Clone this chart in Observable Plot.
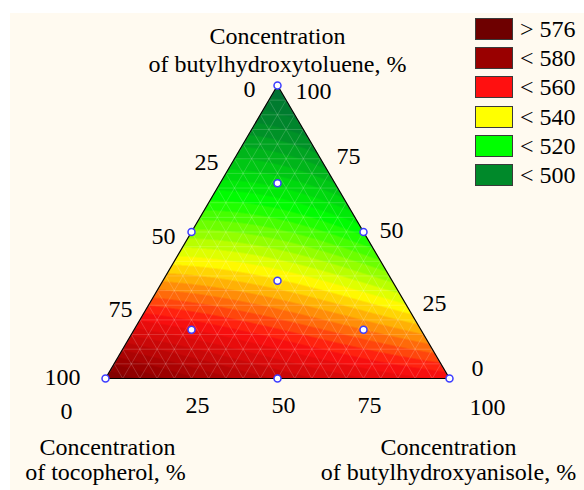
<!DOCTYPE html>
<html>
<head>
<meta charset="utf-8">
<script src="https://cdn.jsdelivr.net/npm/d3@7"></script>
<script src="https://cdn.jsdelivr.net/npm/@observablehq/plot@0.6"></script>
<style>
  html, body { margin: 0; padding: 0; background: #ffffff; }
  #wrap { position: absolute; left: 10px; top: 13px; width: 574px; height: 477px; background: #fffaf0;
          font-family: "Liberation Serif", "Times New Roman", "DejaVu Serif", serif; }
  #wrap svg { position: absolute; left: 0; top: 0; overflow: visible; }
  #wrap svg text { font-family: "Liberation Serif", "Times New Roman", "DejaVu Serif", serif; }
  .lg { position: absolute; left: 465px; height: 22px; display: flex; align-items: center; }
  .sw { width: 38px; height: 22px; box-sizing: border-box; border: 1px solid #3a3a3a; }
  .lt { margin-left: 7px; font-family: "Liberation Serif", "Times New Roman", "DejaVu Serif", serif;
        font-size: 24px; line-height: 22px; color: #000; white-space: pre; }
</style>
</head>
<body>
<div id="wrap"></div>
<script>
// ---- data ----
const designToc = [1, 0, 0, 0.5, 0.5, 0, 1/3, 2/3, 1/6, 1/6];
const designBha = [0, 1, 0, 0.5, 0, 0.5, 1/3, 1/6, 2/3, 1/6];
const designBht = [0, 0, 1, 0, 0.5, 0.5, 1/3, 1/6, 1/6, 2/3];
const response  = [588, 562, 492, 572, 532, 520, 545, 560, 551, 512];

const tickValues = [0, 25, 50, 75, 100];
const legendLabels = ["> 576", "< 580", "< 560", "< 540", "< 520", "< 500"];
const legendColors = ["#6e0000", "#990000", "#ff1010", "#ffff00", "#00ff00", "#00892a"];
const colorStops = [485, 500, 520, 540, 560, 580, 592];
const stopColors = ["#005c3c", "#00892a", "#00ff00", "#ffff00", "#ff1010", "#990000", "#680000"];
const bandStep = 3;
const meshN = 20;

const FONT = "'Liberation Serif', 'Times New Roman', 'DejaVu Serif', serif";

// ---- fit a special cubic Scheffe model to the design points ----
function terms(a, b, c) { return [a, b, c, a*b, a*c, b*c, a*b*c]; }
const X = designToc.map((_, i) => terms(designToc[i], designBha[i], designBht[i]));
const p = 7;
const M = Array.from({length: p}, () => new Array(p + 1).fill(0));
X.forEach((row, i) => {
  for (let r = 0; r < p; r++) {
    for (let c = 0; c < p; c++) M[r][c] += row[r] * row[c];
    M[r][p] += row[r] * response[i];
  }
});
for (let col = 0; col < p; col++) {
  let piv = col;
  for (let r = col + 1; r < p; r++) if (Math.abs(M[r][col]) > Math.abs(M[piv][col])) piv = r;
  [M[col], M[piv]] = [M[piv], M[col]];
  for (let r = 0; r < p; r++) {
    if (r === col) continue;
    const f = M[r][col] / M[col][col];
    for (let c = col; c <= p; c++) M[r][c] -= f * M[col][c];
  }
}
const coef = M.map((row, i) => row[p] / row[i]);
function model(toc, bha, bht) {
  const t = terms(toc, bha, bht);
  return t.reduce((s, v, i) => s + v * coef[i], 0);
}

// ternary -> cartesian (x across, y up)
const tx = (toc, bha, bht) => bha + bht / 2;
const ty = (toc, bha, bht) => bht;

function field(x, y) {
  const bht = y, bha = x - y / 2, toc = 1 - bha - bht;
  if (bht < -1e-9 || bha < -1e-9 || toc < -1e-9) return NaN;
  return model(toc, bha, bht);
}

// ---- colour bands ----
const thresholds = d3.range(colorStops[0], colorStops[colorStops.length - 1] + 0.001, bandStep);
const ramp = d3.scaleLinear().domain(colorStops).range(stopColors).clamp(true);
const bandColors = [ramp(thresholds[0] - bandStep / 2)]
  .concat(thresholds.map(t => ramp(t + bandStep / 2)));

// ---- mesh lines ----
const mesh = [];
d3.range(1, meshN).forEach(k => {
  const c = k / meshN;
  mesh.push({x1: tx(1 - c, 0, c), y1: ty(1 - c, 0, c), x2: tx(0, 1 - c, c), y2: ty(0, 1 - c, c)});
  mesh.push({x1: tx(1 - c, c, 0), y1: ty(1 - c, c, 0), x2: tx(0, c, 1 - c), y2: ty(0, c, 1 - c)});
  mesh.push({x1: tx(c, 1 - c, 0), y1: ty(c, 1 - c, 0), x2: tx(c, 0, 1 - c), y2: ty(c, 0, 1 - c)});
});

const corners = [[1, 0, 0], [0, 1, 0], [0, 0, 1], [1, 0, 0]];
const outline = corners.map(([a, b, c]) => ({x: tx(a, b, c), y: ty(a, b, c)}));
const points = designToc.map((t, i) => ({toc: t, bha: designBha[i], bht: designBht[i]}));

// tick label data
const leftTicks = tickValues.map(v => ({v, x: tx(v/100, 0, 1 - v/100), y: ty(v/100, 0, 1 - v/100)}));
const rightTicks = tickValues.map(v => ({v, x: tx(0, 1 - v/100, v/100), y: ty(0, 1 - v/100, v/100)}));
const bottomTicks = tickValues.map(v => ({v, x: tx(1 - v/100, v/100, 0), y: ty(1 - v/100, v/100, 0)}));

const fs = 24;
const txt = (data, dx, dy) => Plot.text(data, {x: "x", y: "y", text: d => String(d.v), dx, dy,
  fontSize: fs, fontFamily: FONT, fill: "#000", textAnchor: "middle"});
const title = (v, s, dx, dy) => Plot.text([v], {x: "x", y: "y", text: () => s, dx, dy,
  fontSize: fs, fontFamily: FONT, fill: "#000"});

const vTop = {x: tx(0, 0, 1), y: ty(0, 0, 1)};
const vBL = {x: tx(1, 0, 0), y: ty(1, 0, 0)};
const vBR = {x: tx(0, 1, 0), y: ty(0, 1, 0)};

const chart = Plot.plot({
  width: 574, height: 477,
  marginLeft: 95, marginRight: 135, marginTop: 72, marginBottom: 112,
  x: {domain: [0, 1], axis: null},
  y: {domain: [0, 1], axis: null},
  color: {type: "threshold", domain: thresholds, range: bandColors},
  style: {background: "transparent", fontFamily: FONT, overflow: "visible"},
  marks: [
    Plot.raster({x1: 0, y1: 0, x2: 1, y2: 1, fill: field, pixelSize: 0.5}),
    Plot.link(mesh, {x1: "x1", y1: "y1", x2: "x2", y2: "y2", stroke: "#ffffff", strokeOpacity: 0.22, strokeWidth: 0.8}),
    Plot.line(outline, {x: "x", y: "y", stroke: "#000", strokeWidth: 1.2}),
    Plot.dot(points, {x: d => tx(d.toc, d.bha, d.bht), y: d => ty(d.toc, d.bha, d.bht),
      r: 3.5, fill: "#ffffff", stroke: "#3c3cff", strokeWidth: 1.5}),
    // left side ticks (tocopherol)
    txt(leftTicks.filter(d => d.v < 100), -28, 4),
    txt(leftTicks.filter(d => d.v === 100), -43, -1),
    // right side ticks (butylhydroxytoluene)
    txt(rightTicks.filter(d => d.v > 0 && d.v < 100), 28, -2),
    txt(rightTicks.filter(d => d.v === 100), 36, 6),
    txt(rightTicks.filter(d => d.v === 0), 28, -10),
    // bottom ticks (butylhydroxyanisole)
    txt(bottomTicks.filter(d => d.v > 0 && d.v < 100), 6, 27),
    txt(bottomTicks.filter(d => d.v === 0), -39, 33),
    txt(bottomTicks.filter(d => d.v === 100), 38, 29),
    // axis titles
    title(vTop, "Concentration", 0, -49),
    title(vTop, "of butylhydroxytoluene, %", 0, -21),
    title(vBL, "Concentration", 2, 69),
    title(vBL, "of tocopherol, %", 0, 94),
    title(vBR, "Concentration", -1, 69),
    title(vBR, "of butylhydroxyanisole, %", -1, 94)
  ]
});

const wrap = document.getElementById("wrap");
wrap.appendChild(chart);

// legend
legendLabels.forEach((lab, i) => {
  const row = document.createElement("div");
  row.className = "lg";
  row.style.top = (5 + i * 29.2) + "px";
  const sw = document.createElement("div");
  sw.className = "sw";
  sw.style.background = legendColors[i];
  const t = document.createElement("span");
  t.className = "lt";
  t.textContent = lab;
  row.appendChild(sw); row.appendChild(t);
  wrap.appendChild(row);
});
</script>
</body>
</html>
